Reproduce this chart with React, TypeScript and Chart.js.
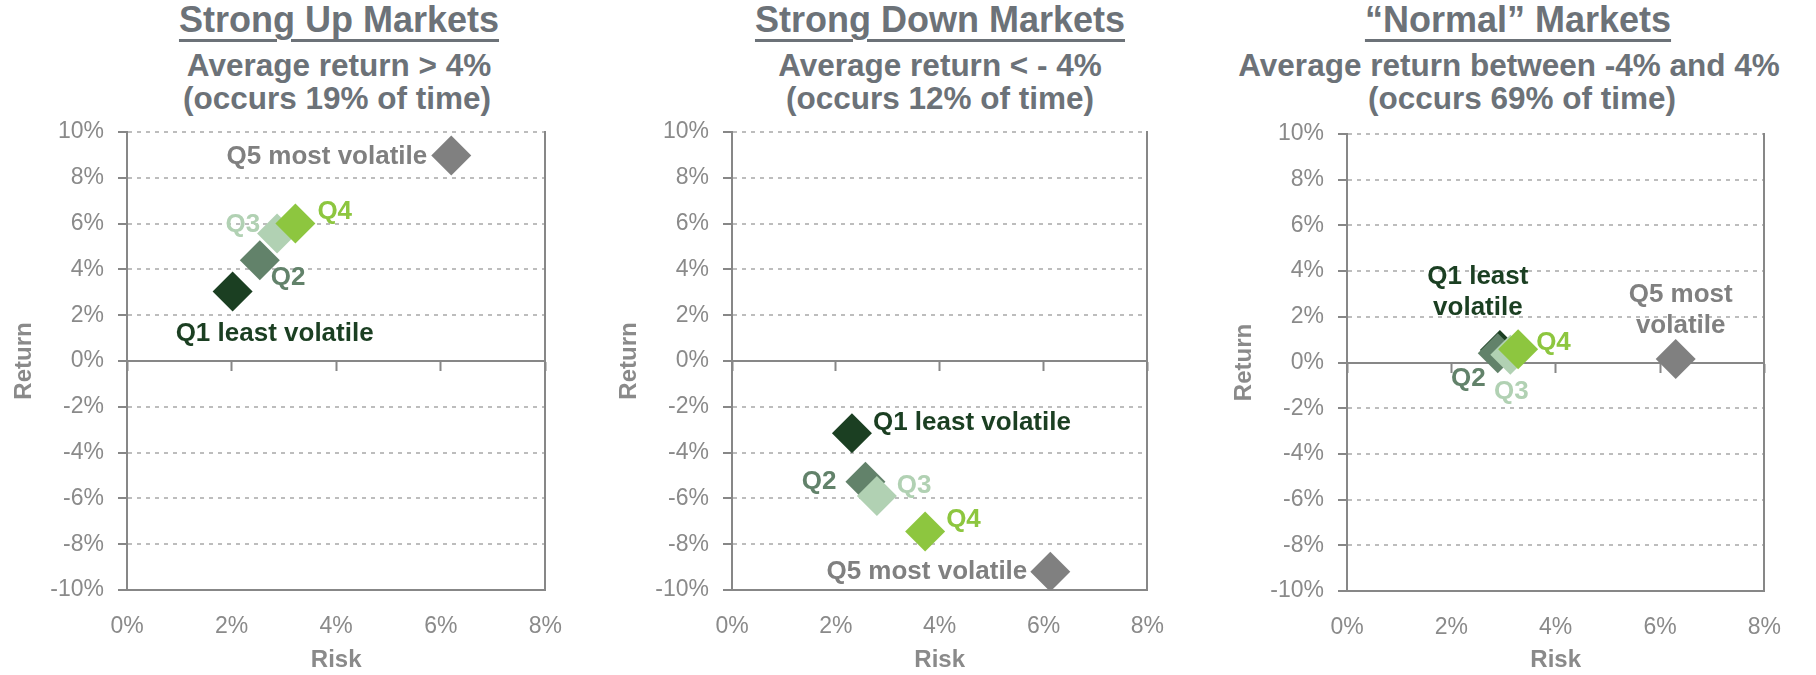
import React, { useEffect, useRef } from 'react';
import { Chart, registerables } from 'chart.js';

Chart.register(...registerables);

// ---------- data ----------
const quintiles = ['Q1', 'Q2', 'Q3', 'Q4', 'Q5'];
const pointColors = ['#1b3f22', '#62826a', '#b1d1b3', '#8dc63f', '#808080'];

const upRisk = [2.02, 2.54, 2.87, 3.22, 6.2];
const upReturn = [3.03, 4.4, 5.57, 6.0, 8.97];
const downRisk = [2.31, 2.57, 2.79, 3.72, 6.13];
const downReturn = [-3.16, -5.27, -5.9, -7.45, -9.2];
const normalRisk = [2.93, 2.89, 3.13, 3.28, 6.3];
const normalReturn = [0.55, 0.41, 0.34, 0.58, 0.15];

const upLabels = [['Q1 least volatile'], ['Q2'], ['Q3'], ['Q4'], ['Q5 most volatile']];
const downLabels = [['Q1 least volatile'], ['Q2'], ['Q3'], ['Q4'], ['Q5 most volatile']];
const normalLabels = [['Q1 least', 'volatile'], ['Q2'], ['Q3'], ['Q4'], ['Q5 most', 'volatile']];

const riskTickRange = [0, 8, 2]; // min, max, step
const returnTickRange = [-10, 10, 2];

const upTitles = ['Strong Up Markets', 'Average return > 4%', '(occurs 19% of time)'];
const downTitles = ['Strong Down Markets', 'Average return < - 4%', '(occurs 12% of time)'];
const normalTitles = ['\u201CNormal\u201D Markets', 'Average return between -4% and 4%', '(occurs 69% of time)'];

const xAxisTitle = 'Risk';
const yAxisTitle = 'Return';

// ---------- styles ----------
const FONT = "'Liberation Sans', Arial, Helvetica, sans-serif";
const TITLE_COLOR = '#6c7278';
const TICK_COLOR = '#8a8a8a';
const AXIS_COLOR = '#878787';
const GRID_COLOR = '#bdbdbd';

type Placement = { align: CanvasTextAlign; dx: number; dy: number };

const upPlacements: Placement[] = [
  { align: 'left', dx: -57, dy: 42 },
  { align: 'left', dx: 11, dy: 18 },
  { align: 'right', dx: -17, dy: -9 },
  { align: 'left', dx: 22, dy: -12 },
  { align: 'right', dx: -24, dy: 1 },
];
const downPlacements: Placement[] = [
  { align: 'left', dx: 21, dy: -11 },
  { align: 'right', dx: -29, dy: 0 },
  { align: 'left', dx: 20, dy: -10 },
  { align: 'left', dx: 21, dy: -12 },
  { align: 'right', dx: -23, dy: 0 },
];
const normalPlacements: Placement[] = [
  { align: 'center', dx: -22, dy: -73 },
  { align: 'right', dx: -12, dy: 26 },
  { align: 'center', dx: 1, dy: 37 },
  { align: 'left', dx: 18, dy: -6 },
  { align: 'center', dx: 5, dy: -64 },
];

function makeLabelPlugin(labels: string[][], placements: Placement[]) {
  return {
    id: 'pointLabelsInline',
    afterDatasetsDraw(chart: any) {
      const meta = chart.getDatasetMeta(0);
      const ctx = chart.ctx as CanvasRenderingContext2D;
      ctx.save();
      ctx.font = `bold 26px ${FONT}`;
      ctx.textBaseline = 'middle';
      meta.data.forEach((pt: any, i: number) => {
        const p = placements[i];
        ctx.fillStyle = pointColors[i];
        ctx.textAlign = p.align;
        labels[i].forEach((line, j) => {
          ctx.fillText(line, pt.x + p.dx, pt.y + p.dy + j * 31);
        });
      });
      ctx.restore();
    },
  };
}

type PanelProps = {
  risk: number[];
  ret: number[];
  labels: string[][];
  placements: Placement[];
  left: number;
  top: number;
  width: number;
  height: number;
  padTop: number;
  xHeight: number;
};

function ScatterPanel(props: PanelProps) {
  const ref = useRef<HTMLCanvasElement>(null);
  const { risk, ret, labels, placements, left, top, width, height, padTop, xHeight } = props;

  useEffect(() => {
    if (!ref.current) return;
    const tickFont = { family: FONT, size: 23 };
    const titleFont = { family: FONT, size: 24, weight: 'bold' as const, lineHeight: 1 };
    const chart = new Chart(ref.current, {
      type: 'scatter',
      data: {
        datasets: [
          {
            label: 'Quintiles',
            data: risk.map((r, i) => ({ x: r, y: ret[i] })),
            xAxisID: 'x',
            yAxisID: 'y',
            pointStyle: 'rectRot',
            pointRadius: 20,
            pointHoverRadius: 20,
            pointBackgroundColor: pointColors,
            pointBorderColor: pointColors,
            pointBorderWidth: 0,
            showLine: false,
          } as any,
        ],
        labels: quintiles,
      },
      options: {
        responsive: false,
        maintainAspectRatio: false,
        animation: false,
        events: [],
        layout: { padding: { top: padTop, right: 24, bottom: 0, left: 0 } },
        plugins: {
          legend: { display: false },
          tooltip: { enabled: false },
          title: { display: false },
        },
        scales: {
          x: {
            type: 'linear',
            position: 'bottom',
            min: riskTickRange[0],
            max: riskTickRange[1],
            ticks: {
              stepSize: riskTickRange[2],
              padding: 23,
              color: TICK_COLOR,
              font: tickFont,
              maxRotation: 0,
              callback: (v: any) => `${v}%`,
            },
            grid: { display: false, drawTicks: false },
            border: { display: true, color: AXIS_COLOR, width: 2 },
            title: {
              display: true,
              text: xAxisTitle,
              color: TICK_COLOR,
              font: titleFont,
              padding: { top: 0, bottom: 3 },
            },
            afterFit: (s: any) => {
              s.height = xHeight;
            },
          },
          x0: {
            type: 'linear',
            axis: 'x',
            position: { y: 0 },
            min: riskTickRange[0],
            max: riskTickRange[1],
            ticks: { display: false, stepSize: riskTickRange[2] },
            grid: {
              display: true,
              drawOnChartArea: false,
              drawTicks: true,
              tickLength: 9,
              tickColor: AXIS_COLOR,
              tickWidth: 2,
              color: AXIS_COLOR,
            },
            border: { display: true, color: AXIS_COLOR, width: 2 },
          },
          y: {
            type: 'linear',
            position: 'left',
            min: returnTickRange[0],
            max: returnTickRange[1],
            ticks: {
              stepSize: returnTickRange[2],
              padding: 14,
              color: TICK_COLOR,
              font: tickFont,
              callback: (v: any) => `${v}%`,
            },
            grid: {
              color: GRID_COLOR,
              lineWidth: 2,
              drawTicks: true,
              tickLength: 9,
              tickColor: AXIS_COLOR,
              tickWidth: 2,
              tickBorderDash: [],
            },
            border: { display: true, color: AXIS_COLOR, width: 2, dash: [4, 5] },
            title: {
              display: true,
              text: yAxisTitle,
              color: TICK_COLOR,
              font: titleFont,
              padding: { top: 12, bottom: 0 },
            },
            afterFit: (s: any) => {
              s.width = 127;
            },
          },
          yR: {
            type: 'linear',
            axis: 'y',
            position: 'right',
            min: returnTickRange[0],
            max: returnTickRange[1],
            ticks: { display: false },
            grid: { display: false, drawTicks: false },
            border: { display: true, color: AXIS_COLOR, width: 2 },
            afterFit: (s: any) => {
              s.width = 0;
            },
          },
        } as any,
      },
      plugins: [makeLabelPlugin(labels, placements)],
    });
    return () => chart.destroy();
  }, []);

  return (
    <canvas
      ref={ref}
      width={width}
      height={height}
      style={{ position: 'absolute', left, top, width, height, display: 'block' }}
    />
  );
}

type TitleProps = { lines: string[]; centers: number[] };

function PanelTitle({ lines, centers }: TitleProps) {
  const base: React.CSSProperties = {
    position: 'absolute',
    width: 800,
    textAlign: 'center',
    fontFamily: FONT,
    fontWeight: 'bold',
    color: TITLE_COLOR,
    whiteSpace: 'nowrap',
    lineHeight: 1,
    margin: 0,
  };
  return (
    <>
      <div
        style={{
          ...base,
          left: centers[0] - 400,
          top: 2,
          fontSize: 36,
          textDecoration: 'underline',
          textDecorationThickness: '3px',
          textUnderlineOffset: '7px',
        }}
      >
        {lines[0]}
      </div>
      <div style={{ ...base, left: centers[1] - 400, top: 50, fontSize: 31.5 }}>{lines[1]}</div>
      <div style={{ ...base, left: centers[2] - 400, top: 83, fontSize: 31.5 }}>{lines[2]}</div>
    </>
  );
}

export default function App() {
  return (
    <div
      style={{
        position: 'absolute',
        left: 0,
        top: 0,
        width: 1816,
        height: 675,
        background: '#ffffff',
        overflow: 'hidden',
      }}
    >
      <PanelTitle lines={upTitles} centers={[339, 339, 337]} />
      <PanelTitle lines={downTitles} centers={[940, 940, 940]} />
      <PanelTitle lines={normalTitles} centers={[1518, 1509, 1522]} />
      <ScatterPanel
        risk={upRisk}
        ret={upReturn}
        labels={upLabels}
        placements={upPlacements}
        left={0}
        top={100}
        width={585}
        height={575}
        padTop={32}
        xHeight={85}
      />
      <ScatterPanel
        risk={downRisk}
        ret={downReturn}
        labels={downLabels}
        placements={downPlacements}
        left={605}
        top={100}
        width={582}
        height={575}
        padTop={32}
        xHeight={85}
      />
      <ScatterPanel
        risk={normalRisk}
        ret={normalReturn}
        labels={normalLabels}
        placements={normalPlacements}
        left={1220}
        top={100}
        width={584}
        height={575}
        padTop={34}
        xHeight={84}
      />
    </div>
  );
}
